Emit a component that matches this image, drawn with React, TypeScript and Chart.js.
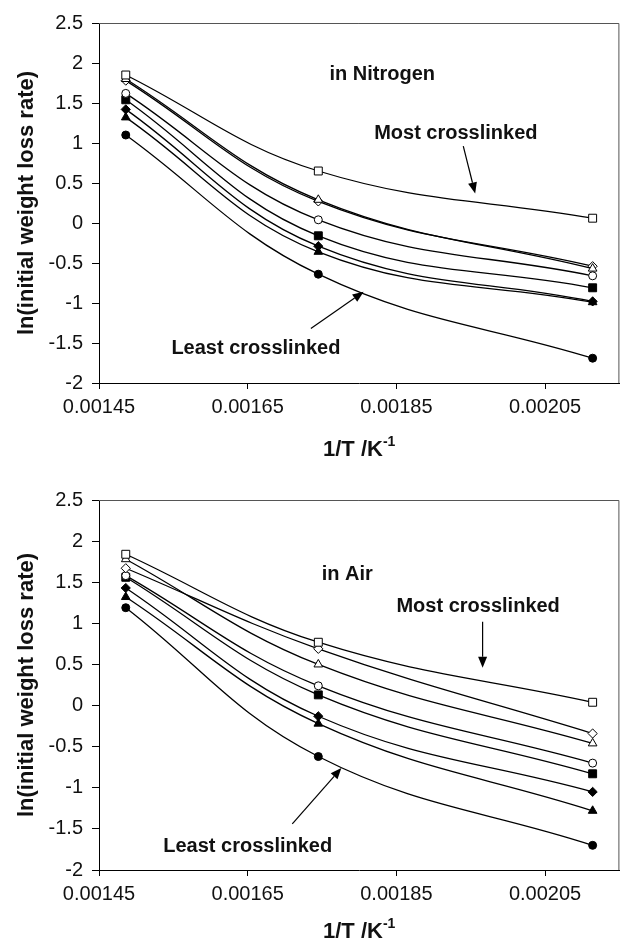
import React, { useEffect, useRef } from 'react';
import { Chart, registerables } from 'chart.js';

Chart.register(...registerables);

// ---------- data ----------
const inverseTemperature = [0.001486, 0.001745, 0.002114];
const xTickValues = [0.00145, 0.00165, 0.00185, 0.00205];
const yTickValues = [-2, -1.5, -1, -0.5, 0, 0.5, 1, 1.5, 2, 2.5];

// Nitrogen
const nitrogenOpenSquare = [1.85, 0.65, 0.06];
const nitrogenOpenTriangle = [1.8, 0.29, -0.57];
const nitrogenOpenDiamond = [1.78, 0.27, -0.54];
const nitrogenOpenCircle = [1.62, 0.04, -0.66];
const nitrogenFilledSquare = [1.54, -0.16, -0.81];
const nitrogenFilledDiamond = [1.42, -0.29, -0.98];
const nitrogenFilledTriangle = [1.32, -0.36, -0.99];
const nitrogenFilledCircle = [1.1, -0.64, -1.69];

// Air
const airOpenSquare = [1.84, 0.77, 0.04];
const airOpenDiamond = [1.67, 0.69, -0.34];
const airOpenTriangle = [1.78, 0.5, -0.46];
const airOpenCircle = [1.58, 0.24, -0.7];
const airFilledSquare = [1.56, 0.13, -0.83];
const airFilledDiamond = [1.43, -0.13, -1.05];
const airFilledTriangle = [1.32, -0.22, -1.28];
const airFilledCircle = [1.19, -0.62, -1.7];

const yAxisTitle = 'ln(initial weight loss rate)';
const xAxisTitleMain = '1/T /K';
const xAxisTitleSup = '-1';

// ---------- styling ----------
const FONT = '"Liberation Sans", Arial, Helvetica, sans-serif';

type Marker = { shape: string; filled: boolean; radius: number };
const MARK = {
  openSquare: { shape: 'rect', filled: false, radius: 5.6 },
  openTriangle: { shape: 'triangle', filled: false, radius: 5 },
  openDiamond: { shape: 'rectRot', filled: false, radius: 4.6 },
  openCircle: { shape: 'circle', filled: false, radius: 4 },
  filledSquare: { shape: 'rect', filled: true, radius: 5.6 },
  filledDiamond: { shape: 'rectRot', filled: true, radius: 4.6 },
  filledTriangle: { shape: 'triangle', filled: true, radius: 5 },
  filledCircle: { shape: 'circle', filled: true, radius: 4 },
};

const nitrogenSeries: [string, number[], Marker][] = [
  ['open square', nitrogenOpenSquare, MARK.openSquare],
  ['open triangle', nitrogenOpenTriangle, MARK.openTriangle],
  ['open diamond', nitrogenOpenDiamond, MARK.openDiamond],
  ['open circle', nitrogenOpenCircle, MARK.openCircle],
  ['filled square', nitrogenFilledSquare, MARK.filledSquare],
  ['filled diamond', nitrogenFilledDiamond, MARK.filledDiamond],
  ['filled triangle', nitrogenFilledTriangle, MARK.filledTriangle],
  ['filled circle', nitrogenFilledCircle, MARK.filledCircle],
];

const airSeries: [string, number[], Marker][] = [
  ['open square', airOpenSquare, MARK.openSquare],
  ['open diamond', airOpenDiamond, MARK.openDiamond],
  ['open triangle', airOpenTriangle, MARK.openTriangle],
  ['open circle', airOpenCircle, MARK.openCircle],
  ['filled square', airFilledSquare, MARK.filledSquare],
  ['filled diamond', airFilledDiamond, MARK.filledDiamond],
  ['filled triangle', airFilledTriangle, MARK.filledTriangle],
  ['filled circle', airFilledCircle, MARK.filledCircle],
];

type Note = { text: string; x: number; y: number };
type Arrow = { x1: number; y1: number; x2: number; y2: number };

const nitrogenNotes: Note[] = [
  { text: 'in Nitrogen', x: 0.001831, y: 1.86 },
  { text: 'Most crosslinked', x: 0.00193, y: 1.12 },
  { text: 'Least crosslinked', x: 0.001661, y: -1.57 },
];
const nitrogenArrows: Arrow[] = [
  { x1: 0.00194, y1: 0.96, x2: 0.001956, y2: 0.37 },
  { x1: 0.001735, y1: -1.32, x2: 0.001806, y2: -0.86 },
];

const airNotes: Note[] = [
  { text: 'in Air', x: 0.001784, y: 1.59 },
  { text: 'Most crosslinked', x: 0.00196, y: 1.2 },
  { text: 'Least crosslinked', x: 0.00165, y: -1.72 },
];
const airArrows: Arrow[] = [
  { x1: 0.001966, y1: 1.02, x2: 0.001966, y2: 0.46 },
  { x1: 0.00171, y1: -1.44, x2: 0.001776, y2: -0.76 },
];

type Layout = { areaTop: number; areaBottom: number; titleOffset: number };

const W = 626;
const H = 472;

function buildConfig(series: [string, number[], Marker][], notes: Note[], arrows: Arrow[], layout: Layout): any {
  const datasets = series.map(([label, values, m]) => ({
    label,
    data: values.map((v, i) => ({ x: inverseTemperature[i], y: v })),
    borderColor: '#000',
    borderWidth: 1.3,
    tension: 0.4,
    pointStyle: m.shape,
    pointRadius: m.radius,
    pointBorderWidth: 1,
    pointBorderColor: '#000',
    pointBackgroundColor: m.filled ? '#000' : '#fff',
    fill: false,
    showLine: true,
  }));

  const overlay = {
    id: 'overlay',
    afterDatasetsDraw(chart: any) {
      const { ctx, chartArea, scales } = chart;
      const sx = scales.x;
      const sy = scales.y;
      ctx.save();
      // plot frame (top & right)
      ctx.strokeStyle = '#555';
      ctx.lineWidth = 1;
      ctx.beginPath();
      ctx.moveTo(chartArea.left, chartArea.top + 0.5);
      ctx.lineTo(chartArea.right - 0.5, chartArea.top + 0.5);
      ctx.lineTo(chartArea.right - 0.5, chartArea.bottom);
      ctx.stroke();

      // notes
      ctx.fillStyle = '#111';
      ctx.font = `bold 20px ${FONT}`;
      ctx.textAlign = 'center';
      ctx.textBaseline = 'middle';
      notes.forEach((n) => {
        ctx.fillText(n.text, sx.getPixelForValue(n.x), sy.getPixelForValue(n.y));
      });

      // arrows
      ctx.strokeStyle = '#000';
      ctx.fillStyle = '#000';
      ctx.lineWidth = 1.2;
      arrows.forEach((a) => {
        const x1 = sx.getPixelForValue(a.x1);
        const y1 = sy.getPixelForValue(a.y1);
        const x2 = sx.getPixelForValue(a.x2);
        const y2 = sy.getPixelForValue(a.y2);
        const ang = Math.atan2(y2 - y1, x2 - x1);
        const len = 11;
        const half = 4.5;
        const bx = x2 - len * Math.cos(ang);
        const by = y2 - len * Math.sin(ang);
        ctx.beginPath();
        ctx.moveTo(x1, y1);
        ctx.lineTo(bx, by);
        ctx.stroke();
        ctx.beginPath();
        ctx.moveTo(x2, y2);
        ctx.lineTo(bx + half * Math.sin(ang), by - half * Math.cos(ang));
        ctx.lineTo(bx - half * Math.sin(ang), by + half * Math.cos(ang));
        ctx.closePath();
        ctx.fill();
      });

      // x axis title with superscript
      const cx = (chartArea.left + chartArea.right) / 2;
      const cy = chartArea.bottom + layout.titleOffset;
      ctx.fillStyle = '#111';
      ctx.font = `bold 22px ${FONT}`;
      const w1 = ctx.measureText(xAxisTitleMain).width;
      ctx.font = `bold 14px ${FONT}`;
      const w2 = ctx.measureText(xAxisTitleSup).width;
      const x0 = cx - (w1 + w2) / 2;
      ctx.textAlign = 'left';
      ctx.font = `bold 22px ${FONT}`;
      ctx.fillText(xAxisTitleMain, x0, cy);
      ctx.font = `bold 14px ${FONT}`;
      ctx.fillText(xAxisTitleSup, x0 + w1, cy - 8);
      ctx.restore();
    },
  };

  return {
    type: 'scatter',
    data: { datasets },
    options: {
      animation: false,
      responsive: false,
      devicePixelRatio: 1,
      layout: { padding: { left: 0, top: layout.areaTop, right: 1, bottom: 0 } },
      plugins: { legend: { display: false }, tooltip: { enabled: false }, title: { display: false } },
      scales: {
        x: {
          type: 'linear',
          min: xTickValues[0],
          max: 0.00215,
          afterBuildTicks: (scale: any) => {
            scale.ticks = xTickValues.map((v) => ({ value: v }));
          },
          afterFit: (scale: any) => {
            scale.height = H - layout.areaBottom;
          },
          grid: { display: true, drawOnChartArea: false, drawTicks: true, tickLength: 6, color: '#000', lineWidth: 1 },
          border: { display: true, color: '#000', width: 1 },
          ticks: {
            autoSkip: false,
            maxRotation: 0,
            padding: 6,
            color: '#111',
            font: { family: FONT, size: 20 },
            callback: (v: any) => Number(v).toFixed(5),
          },
        },
        y: {
          type: 'linear',
          min: -2,
          max: 2.5,
          afterBuildTicks: (scale: any) => {
            scale.ticks = yTickValues.map((v) => ({ value: v }));
          },
          afterFit: (scale: any) => {
            scale.width = 99;
          },
          grid: { display: true, drawOnChartArea: false, drawTicks: true, tickLength: 7, color: '#000', lineWidth: 1 },
          border: { display: true, color: '#000', width: 1 },
          ticks: {
            autoSkip: false,
            padding: 9,
            color: '#111',
            font: { family: FONT, size: 20 },
            callback: (v: any) => String(Math.round(Number(v) * 10) / 10),
          },
          title: {
            display: true,
            text: yAxisTitle,
            color: '#111',
            font: { family: FONT, size: 22, weight: 'bold' },
            padding: { top: 14, bottom: 0 },
          },
        },
      },
    },
    plugins: [overlay],
  };
}

function ChartPanel({ series, notes, arrows, layout, top }: any) {
  const ref = useRef<HTMLCanvasElement | null>(null);
  useEffect(() => {
    if (!ref.current) return;
    const chart = new Chart(ref.current, buildConfig(series, notes, arrows, layout));
    return () => chart.destroy();
  }, []);
  return (
    <div style={{ position: 'absolute', left: 0, top, width: W, height: H }}>
      <canvas ref={ref} width={W} height={H} style={{ display: 'block', width: W, height: H }} />
    </div>
  );
}

export default function App() {
  return (
    <div style={{ position: 'fixed', left: 0, top: 0, width: 626, height: 944, background: '#fff', overflow: 'hidden' }}>
      <ChartPanel
        series={nitrogenSeries}
        notes={nitrogenNotes}
        arrows={nitrogenArrows}
        layout={{ areaTop: 23, areaBottom: 383, titleOffset: 67 }}
        top={0}
      />
      <ChartPanel
        series={airSeries}
        notes={airNotes}
        arrows={airArrows}
        layout={{ areaTop: 28, areaBottom: 398, titleOffset: 62 }}
        top={472}
      />
    </div>
  );
}
